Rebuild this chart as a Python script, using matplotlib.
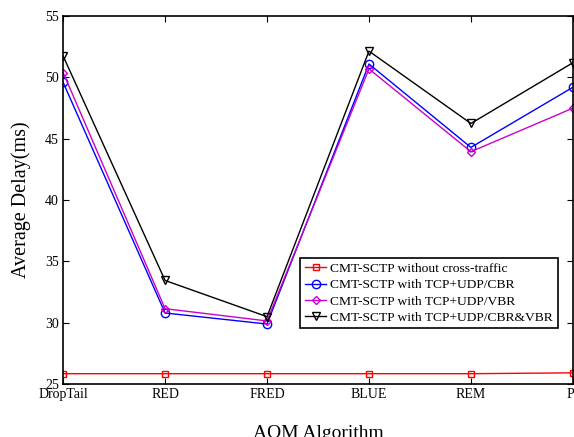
import numpy as np
import matplotlib
matplotlib.use("Agg")
import matplotlib.pyplot as plt

plt.rcParams['font.family'] = ['Liberation Serif', 'DejaVu Serif']

# AQM algorithms on the x axis
algorithms = ['DropTail', 'RED', 'FRED', 'BLUE', 'REM', 'PI']

# average delay (ms) per scenario
no_cross = [25.85, 25.85, 25.85, 25.85, 25.85, 25.92]
udp_cbr = [49.6, 30.8, 29.9, 51.1, 44.3, 49.2]
udp_vbr = [50.4, 31.15, 30.15, 50.7, 43.95, 47.5]
udp_cbr_vbr = [51.75, 33.45, 30.5, 52.15, 46.25, 51.2]

labels = ['CMT-SCTP without cross-traffic',
          'CMT-SCTP with TCP+UDP/CBR',
          'CMT-SCTP with TCP+UDP/VBR',
          'CMT-SCTP with TCP+UDP/CBR&VBR']

fig = plt.figure(figsize=(5.74, 4.37), dpi=100)
ax = fig.add_axes([0.110, 0.121, 0.888, 0.842])

x = np.arange(len(algorithms))
ax.plot(x, no_cross, color='red', marker='s', mfc='none', ms=5, lw=1, label=labels[0])
ax.plot(x, udp_cbr, color='blue', marker='o', mfc='none', ms=6, lw=1, label=labels[1])
ax.plot(x, udp_vbr, color='#cc00cc', marker='D', mfc='none', ms=4.5, lw=1, label=labels[2])
ax.plot(x, udp_cbr_vbr, color='black', marker='v', mfc='none', ms=6, lw=1, label=labels[3])

ax.set_xlim(0, 5)
ax.set_ylim(25, 55)
ax.set_xticks(x)
ax.set_xticklabels(algorithms)
ax.set_yticks(np.arange(25, 56, 5))
ax.tick_params(direction='in', top=True, right=True, labelsize=10, length=4, pad=3)
for sp in ax.spines.values():
    sp.set_linewidth(1.2)

ax.set_xlabel('AQM Algorithm', fontsize=14, labelpad=17)
ax.set_ylabel('Average Delay(ms)', fontsize=14.5, labelpad=10)

leg = ax.legend(loc='lower right', bbox_to_anchor=(0.984, 0.133), fontsize=9.7,
                fancybox=False, framealpha=1, edgecolor='black',
                handlelength=1.6, handletextpad=0.3, borderpad=0.35, labelspacing=0.28)
leg.get_frame().set_linewidth(1.2)

fig.savefig('out.png', dpi=100)
